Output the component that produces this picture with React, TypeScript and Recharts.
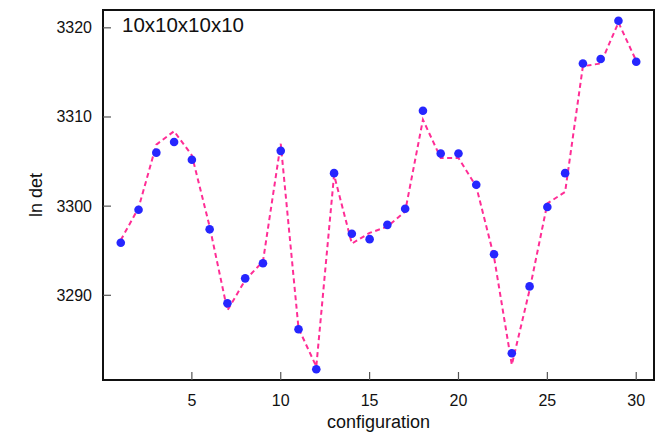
import {
  ComposedChart,
  Line,
  Scatter,
  XAxis,
  YAxis,
  ReferenceArea,
} from 'recharts'

const configs = [
  1, 2, 3, 4, 5, 6, 7, 8, 9, 10, 11, 12, 13, 14, 15, 16, 17, 18, 19, 20, 21,
  22, 23, 24, 25, 26, 27, 28, 29, 30,
]

const lnDet = [
  3295.9, 3299.6, 3306.0, 3307.2, 3305.2, 3297.4, 3289.1, 3291.9, 3293.6,
  3306.2, 3286.2, 3281.7, 3303.7, 3296.9, 3296.3, 3297.9, 3299.7, 3310.7,
  3305.9, 3305.9, 3302.4, 3294.6, 3283.5, 3291.0, 3299.9, 3303.7, 3316.0,
  3316.5, 3320.8, 3316.2,
]

const fit = [
  3296.2, 3299.8, 3306.9, 3308.4, 3305.7, 3297.7, 3288.3, 3291.7, 3293.8,
  3307.0, 3286.3, 3282.0, 3303.5, 3295.8, 3297.0, 3297.7, 3299.4, 3309.7,
  3305.4, 3305.4, 3302.2, 3294.3, 3282.2, 3290.6, 3300.3, 3301.6, 3315.7,
  3316.0, 3320.6, 3316.3,
]

const xTicks = [5, 10, 15, 20, 25, 30]
const yTicks = [3290, 3300, 3310, 3320]

const xDomain: [number, number] = [0, 31]
const yDomain: [number, number] = [3280.5, 3322]

const data = configs.map((c, i) => ({ config: c, lnDet: lnDet[i], fit: fit[i] }))

const FONT = '"Liberation Sans", Arial, Helvetica, sans-serif'

const YTick = ({ x, y, payload }: any) => (
  <g>
    <line x1={x} x2={x + 8} y1={y} y2={y} stroke="#555" strokeWidth={1.2} />
    <text
      x={x - 11}
      y={y}
      dy={5.5}
      textAnchor="end"
      fontSize={16}
      fontFamily={FONT}
      fill="#111"
    >
      {payload.value}
    </text>
  </g>
)

const XTick = ({ x, y, payload }: any) => (
  <g>
    <line x1={x} x2={x} y1={y} y2={y - 8} stroke="#555" strokeWidth={1.2} />
    <text
      x={x}
      y={y + 26}
      textAnchor="middle"
      fontSize={16}
      fontFamily={FONT}
      fill="#111"
    >
      {payload.value}
    </text>
  </g>
)

const Dot = ({ cx, cy }: any) => <circle cx={cx} cy={cy} r={4.3} fill="#2626ff" />

const App = () => {
  return (
    <ComposedChart
      width={656}
      height={435}
      data={data}
      margin={{ top: 2, right: 10, left: 0, bottom: 0 }}
    >
      <XAxis
        dataKey="config"
        type="number"
        domain={xDomain}
        ticks={xTicks}
        height={63}
        axisLine={false}
        tickLine={false}
        tickSize={0}
        tickMargin={0}
        tick={<XTick />}
        label={{
          content: ({ viewBox }: any) => (
            <text
              x={viewBox.x + viewBox.width / 2}
              y={viewBox.y + 48}
              textAnchor="middle"
              fontSize={18}
              fontFamily={FONT}
              fill="#111"
            >
              configuration
            </text>
          ),
        }}
      />
      <YAxis
        type="number"
        domain={yDomain}
        ticks={yTicks}
        width={95}
        axisLine={false}
        tickLine={false}
        tickSize={0}
        tickMargin={0}
        tick={<YTick />}
        label={{
          content: ({ viewBox }: any) => {
            const cx = 34
            const cy = viewBox.y + viewBox.height / 2
            return (
              <text
                x={cx}
                y={cy}
                transform={`rotate(-90 ${cx} ${cy})`}
                textAnchor="middle"
                fontSize={18}
                fontFamily={FONT}
                fill="#111"
              >
                ln det
              </text>
            )
          },
        }}
      />
      <ReferenceArea
        x1={xDomain[0]}
        x2={xDomain[1]}
        y1={yDomain[0]}
        y2={yDomain[1]}
        fill="none"
        stroke="#111"
        strokeWidth={2}
        label={{
          content: ({ viewBox }: any) => (
            <text
              x={viewBox.x + 19}
              y={viewBox.y + 22}
              fontSize={20.5}
              fontFamily={FONT}
              fill="#111"
            >
              10x10x10x10
            </text>
          ),
        }}
      />
      <Scatter dataKey="lnDet" shape={<Dot />} isAnimationActive={false} />
      <Line
        type="linear"
        dataKey="fit"
        stroke="#ff2d95"
        strokeWidth={2}
        strokeDasharray="5 3.5"
        dot={false}
        activeDot={false}
        isAnimationActive={false}
      />
    </ComposedChart>
  )
}

export default App
